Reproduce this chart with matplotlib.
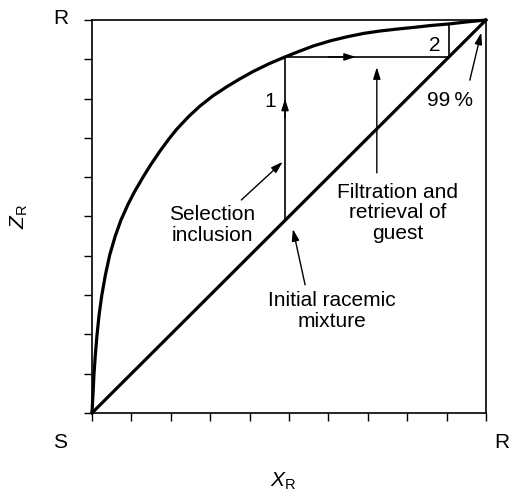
import matplotlib
matplotlib.use("Agg")
import matplotlib.pyplot as plt

plt.rcParams['font.family'] = ['Liberation Sans', 'DejaVu Sans']
plt.rcParams['mathtext.fontset'] = 'custom'
plt.rcParams['mathtext.rm'] = 'Liberation Sans'
plt.rcParams['mathtext.it'] = 'Liberation Sans:italic'

# Equilibrium curve of guest composition Z_R versus host-mixture composition X_R
curve_x = [0.0, 0.0025, 0.005, 0.0085, 0.0127, 0.018, 0.025, 0.034, 0.045, 0.059,
           0.074, 0.092, 0.108, 0.13, 0.15, 0.173, 0.195, 0.215, 0.245, 0.274,
           0.307, 0.342, 0.375, 0.409, 0.45, 0.49, 0.525, 0.562, 0.605, 0.646,
           0.69, 0.731, 0.775, 0.815, 0.86, 0.906, 0.95, 1.0]
curve_z = [0.0, 0.046, 0.097, 0.148, 0.198, 0.249, 0.30, 0.351, 0.402, 0.45,
           0.492, 0.532, 0.563, 0.601, 0.633, 0.667, 0.697, 0.722, 0.754, 0.781,
           0.807, 0.83, 0.85, 0.869, 0.889, 0.906, 0.92, 0.934, 0.947, 0.957,
           0.966, 0.972, 0.977, 0.981, 0.986, 0.99, 0.995, 1.0]

# Two enrichment steps: start composition, after step 1, after step 2
step_x = [0.49, 0.906]
step_z = [0.906, 0.99]

tick_values = [i / 10 for i in range(11)]

fig = plt.figure(figsize=(5.11, 4.94), dpi=100)
ax = fig.add_axes([0.18, 0.164, 0.771, 0.7955])
ax.set_xlim(0, 1)
ax.set_ylim(0, 1)

for side in ax.spines.values():
    side.set_linewidth(1.2)

ax.set_xticks(tick_values)
ax.set_yticks(tick_values)
ax.set_xticklabels([])
ax.set_yticklabels([])
ax.tick_params(direction='out', length=6, width=1.0, top=False, right=False)

# Curve and diagonal
ax.plot(curve_x, curve_z, color='black', lw=2.3, solid_joinstyle='round',
        solid_capstyle='round', clip_on=False)
ax.plot([0, 1], [0, 1], color='black', lw=2.3, clip_on=False)

# Step 1: vertical up, then horizontal to the diagonal
ax.plot([step_x[0], step_x[0]], [step_x[0], step_z[0]], color='black', lw=1.2)
ax.plot([step_x[0], step_x[1]], [step_z[0], step_z[0]], color='black', lw=1.2)
# Step 2
ax.plot([step_x[1], step_x[1]], [step_x[1], step_z[1]], color='black', lw=1.2)

arrow = dict(arrowstyle='-|>,head_length=0.7,head_width=0.22', color='black',
             lw=1.0, shrinkA=0, shrinkB=0)

# Direction markers on the step lines
ax.annotate('', xy=(step_x[0], 0.80), xytext=(step_x[0], 0.75), arrowprops=arrow)
ax.annotate('', xy=(0.67, step_z[0]), xytext=(0.60, step_z[0]), arrowprops=arrow)

txt = dict(fontsize=15, ha='center', va='center', linespacing=1.1)

ax.text(0.452, 0.792, '1', **txt)
ax.text(0.871, 0.936, '2', **txt)

ax.annotate('', xy=(0.484, 0.639), xytext=(0.379, 0.542), arrowprops=arrow)
ax.text(0.305, 0.478, 'Selection\ninclusion', **txt)

ax.annotate('', xy=(0.510, 0.468), xytext=(0.541, 0.326), arrowprops=arrow)
ax.text(0.609, 0.26, 'Initial racemic\nmixture', **txt)

ax.annotate('', xy=(0.723, 0.88), xytext=(0.723, 0.611), arrowprops=arrow)
ax.text(0.776, 0.509, 'Filtration and\nretrieval of\nguest', **txt)

ax.annotate('', xy=(0.988, 0.968), xytext=(0.959, 0.847), arrowprops=arrow)
ax.text(0.909, 0.794, '99\u2009%', **txt)

# Corner labels
ax.text(-0.08, 1.005, 'R', transform=ax.transAxes, **txt)
ax.text(-0.08, -0.076, 'S', transform=ax.transAxes, **txt)
ax.text(1.04, -0.076, 'R', transform=ax.transAxes, **txt)

# Axis titles
ax.text(0.485, -0.175, r'$X_\mathrm{R}$', transform=ax.transAxes, fontsize=15,
        ha='center', va='center')
ax.text(-0.185, 0.50, r'$Z_\mathrm{R}$', transform=ax.transAxes, fontsize=15,
        ha='center', va='center', rotation=90)

fig.savefig('out.png', dpi=100)
